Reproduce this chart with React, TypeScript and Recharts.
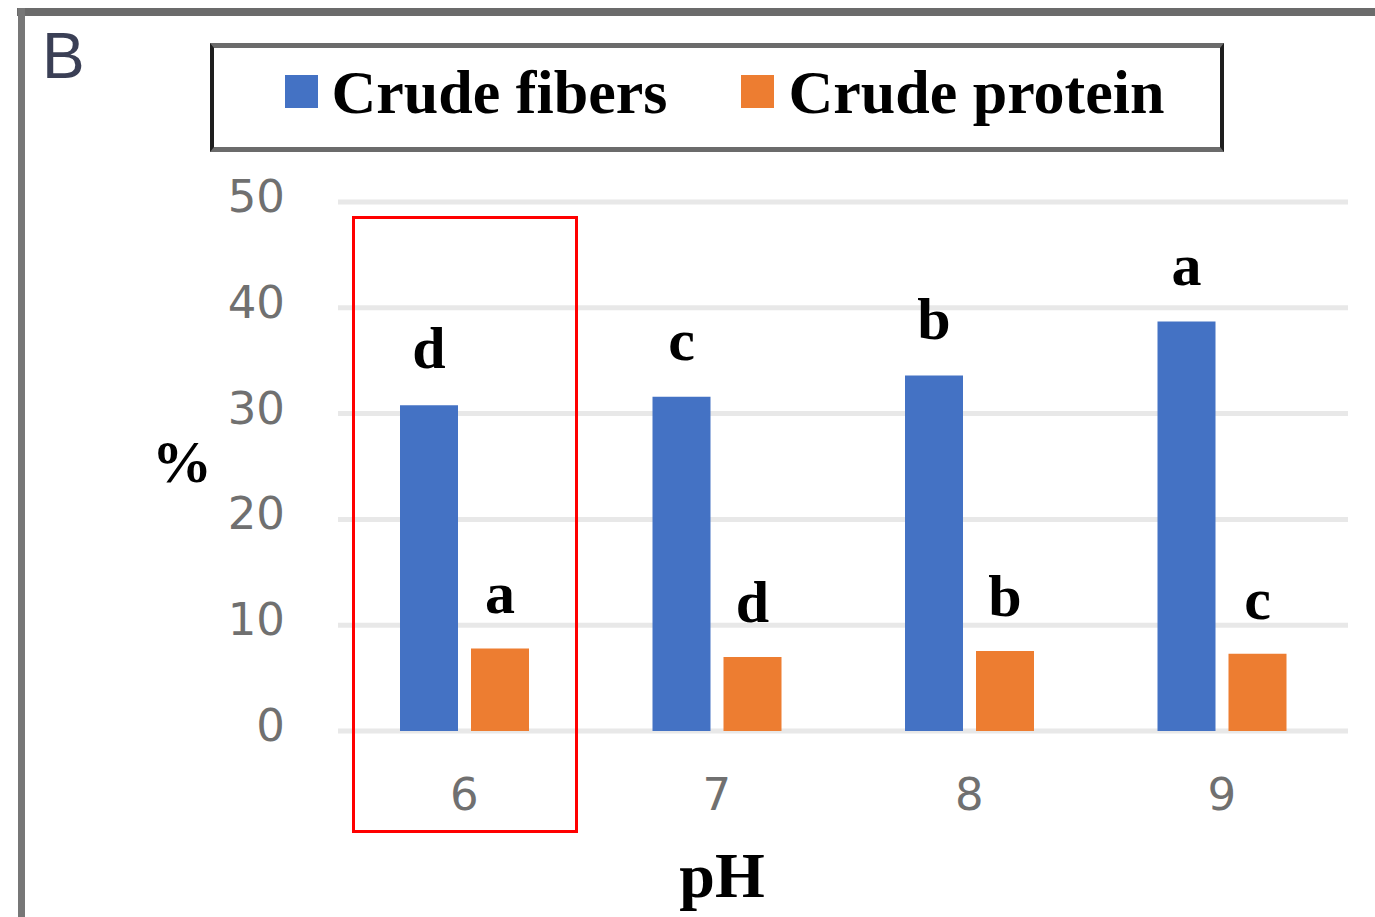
import React from 'react';
import { BarChart, Bar, XAxis, YAxis, CartesianGrid, LabelList, Label } from 'recharts';

const phLevels = ['6', '7', '8', '9'];
const crudeFibers = [30.8, 31.6, 33.6, 38.7];
const crudeProtein = [7.8, 7.0, 7.55, 7.3];
const fiberLetters = ['d', 'c', 'b', 'a'];
const proteinLetters = ['a', 'd', 'b', 'c'];
const yTicks = [0, 10, 20, 30, 40, 50];
const seriesNames = ['Crude fibers', 'Crude protein'];
const seriesColors = ['#4472c4', '#ed7d31'];

const data = phLevels.map((ph, i) => ({
  ph,
  fibers: crudeFibers[i],
  protein: crudeProtein[i],
  fiberSig: fiberLetters[i],
  proteinSig: proteinLetters[i],
}));

const serif = '"Liberation Serif", "DejaVu Serif", serif';
const tickStyle = { fontFamily: '"DejaVu Sans", sans-serif', fontSize: 45, fill: '#707070' };
const letterStyle = { fontFamily: serif, fontWeight: 700, fontSize: 60, fill: '#000' };

function LegendBox() {
  return (
    <div
      style={{
        position: 'absolute', left: 210, top: 43, width: 1014, height: 109,
        boxSizing: 'border-box', borderTop: '5px solid #6b6b6b', borderBottom: '5px solid #6b6b6b',
        borderLeft: '4px solid #1e1e1e', borderRight: '4px solid #1e1e1e',
        display: 'flex', alignItems: 'center', justifyContent: 'center',
        paddingBottom: 12, paddingLeft: 15, background: '#fff',
      }}
    >
      {seriesNames.map((name, i) => (
        <div key={name} style={{ display: 'flex', alignItems: 'center', marginRight: i === 0 ? 74 : 0 }}>
          <div style={{ width: 33, height: 33, background: seriesColors[i], marginRight: 14 }} />
          <span style={{ fontFamily: serif, fontWeight: 700, fontSize: 62, lineHeight: 1, color: '#000' }}>{name}</span>
        </div>
      ))}
    </div>
  );
}

// y tick text nudged up a little, as in the source figure
const YTick = (props: any) => {
  const { x, y, payload } = props;
  return (
    <text x={x} y={y} dy={10} textAnchor="end" {...tickStyle}>{payload.value}</text>
  );
};

export default function App() {
  return (
    <div style={{ position: 'absolute', left: 0, top: 0, width: 1375, height: 917, background: '#fff', overflow: 'hidden' }}>
      {/* figure frame */}
      <div style={{ position: 'absolute', left: 17, top: 8, right: 0, height: 8, background: '#6b6b6b' }} />
      <div style={{ position: 'absolute', left: 18, top: 8, width: 7, bottom: 0, background: '#777' }} />
      <div style={{ position: 'absolute', left: 42, top: 24, fontFamily: '"Liberation Sans", sans-serif', fontSize: 64, lineHeight: 1, color: '#3a3f55' }}>B</div>

      <BarChart width={1375} height={917} data={data} margin={{ top: 202, right: 27, bottom: 0, left: 138 }} barGap={13} barSize={58}>
        <CartesianGrid vertical={false} stroke="#e8e8e8" strokeWidth={5} />
        <XAxis dataKey="ph" height={186} axisLine={false} tickLine={false} tickSize={0} tickMargin={47} tick={tickStyle}>
          <Label
            content={() => (
              <text x={722} y={897} textAnchor="middle" fontFamily={serif} fontWeight={700} fontSize={64} fill="#000">pH</text>
            )}
          />
        </XAxis>
        <YAxis width={200} domain={[0, 50]} ticks={yTicks} axisLine={false} tickLine={false} tickSize={0} tickMargin={53} tick={<YTick />}>
          <Label
            content={() => (
              <text x={182} y={482} textAnchor="middle" fontFamily={serif} fontWeight={700} fontSize={60} fill="#000">%</text>
            )}
          />
        </YAxis>
        <Bar dataKey="fibers" name={seriesNames[0]} fill={seriesColors[0]} isAnimationActive={false}>
          <LabelList dataKey="fiberSig" position="top" offset={37} style={letterStyle} />
        </Bar>
        <Bar dataKey="protein" name={seriesNames[1]} fill={seriesColors[1]} isAnimationActive={false}>
          <LabelList dataKey="proteinSig" position="top" offset={35} style={letterStyle} />
        </Bar>
      </BarChart>

      <LegendBox />
      {/* highlight box around pH 6 */}
      <div style={{ position: 'absolute', left: 352, top: 216, width: 226, height: 617, boxSizing: 'border-box', border: '3px solid #ff0000' }} />
    </div>
  );
}
